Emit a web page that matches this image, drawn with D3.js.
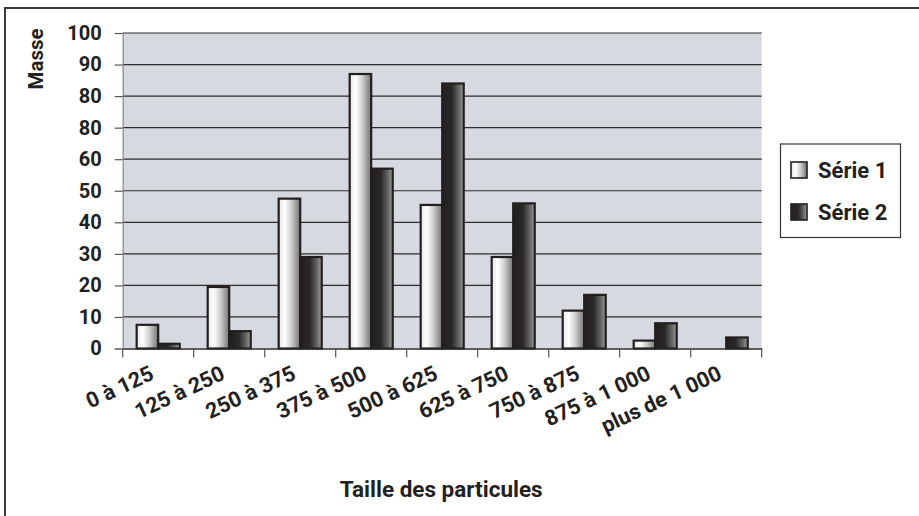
<!DOCTYPE html>
<html>
<head>
<meta charset="utf-8">
<script src="https://cdn.jsdelivr.net/npm/d3@7"></script>
<style>
  html, body { margin: 0; padding: 0; background: #fff; }
  svg { display: block; }
  text { font-family: Roboto, "DejaVu Sans", sans-serif; font-weight: 700; fill: #231f20; }
</style>
</head>
<body>
<svg id="chart" width="919" height="516"></svg>
<script>
// Particle size classes and the mass measured in each, two series
const categories = ["0 à 125", "125 à 250", "250 à 375", "375 à 500", "500 à 625",
                    "625 à 750", "750 à 875", "875 à 1 000", "plus de 1 000"];
const serie1 = [7.5, 19.5, 47.5, 87, 45.5, 29, 12, 2.5, 0];
const serie2 = [1.5, 5.5, 29, 57, 84, 46, 17, 8, 3.5];
const seriesNames = ["Série 1", "Série 2"];
const yTickValues = [0, 10, 20, 30, 40, 50, 60, 70, 80, 90, 100];
const yTickLabels = ["0", "10", "20", "30", "40", "50", "60", "80", "80", "90", "100"];
const xTitle = "Taille des particules";
const yTitle = "Masse";

const svg = d3.select("#chart");
const ink = "#231f20";

// Outer frame of the figure
svg.append("rect")
  .attr("x", 5).attr("y", 8).attr("width", 960).attr("height", 540)
  .attr("fill", "#fff").attr("stroke", "#3a3a3a").attr("stroke-width", 2);

const plot = { left: 122.7, right: 761.7, top: 33, bottom: 348.5 };

const x = d3.scaleBand().domain(categories).range([plot.left, plot.right]).paddingInner(0).paddingOuter(0);
const xInner = d3.scaleBand().domain(seriesNames).range([0, x.bandwidth()]).paddingInner(0).paddingOuter(0.65);
const y = d3.scaleLinear().domain([0, 100]).range([plot.bottom, plot.top]);

// Bar gradients
const defs = svg.append("defs");
const g1 = defs.append("linearGradient").attr("id", "grad1").attr("x1", 0).attr("x2", 1).attr("y1", 0).attr("y2", 0);
[[0, "#e6e6e6"], [0.28, "#ffffff"], [0.6, "#cccccc"], [1, "#737373"]]
  .forEach(([o, c]) => g1.append("stop").attr("offset", o).attr("stop-color", c));
const g2 = defs.append("linearGradient").attr("id", "grad2").attr("x1", 0).attr("x2", 1).attr("y1", 0).attr("y2", 0);
[[0, "#231f20"], [0.45, "#2a2728"], [0.8, "#6a6a6a"], [1, "#a0a0a0"]]
  .forEach(([o, c]) => g2.append("stop").attr("offset", o).attr("stop-color", c));
const fills = ["url(#grad1)", "url(#grad2)"];

// Plot background
svg.append("rect")
  .attr("x", plot.left).attr("y", plot.top)
  .attr("width", plot.right - plot.left).attr("height", plot.bottom - plot.top)
  .attr("fill", "#d7d9e1");

// Horizontal gridlines
svg.append("g").selectAll("line").data(yTickValues.filter(v => v > 0)).join("line")
  .attr("x1", plot.left).attr("x2", plot.right)
  .attr("y1", d => y(d)).attr("y2", d => y(d))
  .attr("stroke", "#2e2b2c").attr("stroke-width", 1.2);

// Y axis
const yAxis = d3.axisLeft(y).tickValues(yTickValues)
  .tickFormat((d, i) => yTickLabels[i]).tickSize(8).tickPadding(13);
const gy = svg.append("g").attr("transform", `translate(${plot.left},0)`).call(yAxis);
gy.select(".domain").attr("stroke", "#8a8a8a").attr("stroke-width", 1.2);
gy.selectAll(".tick line").attr("stroke", "#555").attr("stroke-width", 1.2);
gy.selectAll(".tick text").attr("font-size", 20).attr("fill", ink)
  .attr("font-family", "Roboto, 'DejaVu Sans', sans-serif").attr("font-weight", 700);

// Bars
const rows = categories.map((c, i) => ({ cat: c, vals: [serie1[i], serie2[i]] }));
const groups = svg.append("g").selectAll("g").data(rows).join("g")
  .attr("transform", d => `translate(${x(d.cat)},0)`);
groups.selectAll("rect")
  .data(d => d.vals.map((v, k) => ({ v, k })).filter(e => e.v > 0))
  .join("rect")
  .attr("x", d => xInner(seriesNames[d.k]))
  .attr("width", xInner.bandwidth())
  .attr("y", d => y(d.v))
  .attr("height", d => y(0) - y(d.v))
  .attr("fill", d => fills[d.k])
  .attr("stroke", ink).attr("stroke-width", 2.2);

// X axis
const xAxis = d3.axisBottom(x).tickSize(0).tickFormat("");
const gx = svg.append("g").attr("transform", `translate(0,${plot.bottom})`).call(xAxis);
gx.select(".domain").attr("stroke", "#2e2b2c").attr("stroke-width", 1.4);
// tick marks at category boundaries
const bounds = categories.map(c => x(c)).concat([plot.right]);
svg.append("g").selectAll("line").data(bounds).join("line")
  .attr("x1", d => d).attr("x2", d => d)
  .attr("y1", plot.bottom).attr("y2", plot.bottom + 9)
  .attr("stroke", "#555").attr("stroke-width", 1.2);

// Rotated category labels
svg.append("g").selectAll("text").data(categories).join("text")
  .attr("transform", d => `translate(${x(d) + x.bandwidth() / 2 - 3},${plot.bottom + 30}) rotate(-25)`)
  .attr("text-anchor", "end")
  .attr("font-size", 21.5)
  .text(d => d);

// Axis titles
svg.append("text")
  .attr("x", (plot.left + plot.right) / 2 - 1).attr("y", 497)
  .attr("text-anchor", "middle").attr("font-size", 22.5)
  .text(xTitle);
svg.append("text")
  .attr("transform", `translate(43,59) rotate(-90)`)
  .attr("text-anchor", "middle").attr("font-size", 20.5)
  .text(yTitle);

// Legend
const legend = svg.append("g");
legend.append("rect")
  .attr("x", 780.5).attr("y", 144).attr("width", 120).attr("height", 93.5)
  .attr("fill", "#fff").attr("stroke", "#333").attr("stroke-width", 1.2);
const li = legend.selectAll("g").data(seriesNames).join("g")
  .attr("transform", (d, i) => `translate(791,${162 + i * 42})`);
li.append("rect")
  .attr("width", 16).attr("height", 16)
  .attr("fill", (d, i) => fills[i]).attr("stroke", ink).attr("stroke-width", 1.6);
li.append("text")
  .attr("x", 27).attr("y", 15.5).attr("font-size", 22)
  .text(d => d);
</script>
</body>
</html>
